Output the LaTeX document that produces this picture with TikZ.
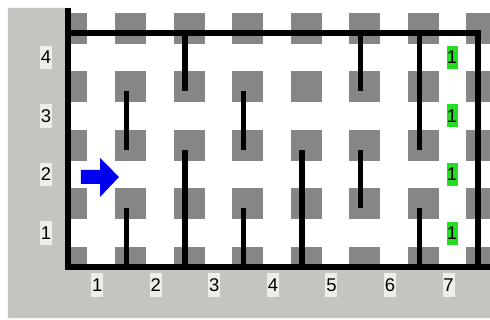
\documentclass[tikz,border=0pt]{standalone}
\usepackage{fontspec}
\setmainfont{Liberation Sans}
\definecolor{framegray}{HTML}{C4C4C0}
\definecolor{postgray}{HTML}{868686}
\definecolor{tagback}{HTML}{EEEEE8}
\definecolor{goalgreen}{HTML}{22DD22}
\definecolor{arrowblue}{HTML}{0000F0}

\begin{document}
\begin{tikzpicture}[x=1.171cm,y=1.171cm,
  wall/.style={line width=3.1pt},
  post/.style={fill=postgray},
  tag/.style={fill=tagback,inner sep=0pt,minimum width=0.24cm,minimum height=0.47cm,font=\fontsize{10.5}{12}\selectfont},
  goal/.style={tag,fill=goalgreen,minimum width=0.22cm,minimum height=0.46cm}]
\useasboundingbox (-1.161,-0.905) rectangle (7.207,4.560);
\clip (-1.161,-0.905) rectangle (7.207,4.560);
\fill[white] (-1.161,-0.905) rectangle (7.207,4.560);

% posts of the maze
\foreach \i in {0,...,7}
  \foreach \j in {0,...,4}
    \fill[post] (\i+0.068-0.265,\j+0.077-0.265) rectangle ++(0.53,0.53);

% window frame
\fill[framegray] (-1.025,-0.871) -- (7.207,-0.871) -- (7.207,0) -- (0,0) -- (0,4.424) -- (-1.025,4.424) -- cycle;

% row and column numbers
\foreach \n in {1,...,4}
  \node[tag] (row\n) at (-0.376,\n-0.5+0.08) {\n};
\foreach \n in {1,...,7}
  \node[tag] (col\n) at (\n-0.5,-0.307) {\n};

% goal cells
\foreach \n in {1,...,4}
  \node[goal] (goal\n) at (6.56,\n-0.5+0.08) {1};

% outer walls
\draw[wall] (0,4.424) -- (0,0) -- (7.207,0);
\draw[wall] (0,4) -- (7,4) -- (7,0);

% inner walls
\draw[wall] (1,3) -- (1,2);
\draw[wall] (1,1) -- (1,0);
\draw[wall] (2,4) -- (2,3);
\draw[wall] (2,2) -- (2,0);
\draw[wall] (3,3) -- (3,2);
\draw[wall] (3,1) -- (3,0);
\draw[wall] (4,2) -- (4,0);
\draw[wall] (5,4) -- (5,3);
\draw[wall] (5,2) -- (5,1);
\draw[wall] (6,4) -- (6,2);
\draw[wall] (6,1) -- (6,0);

% start arrow
\fill[arrowblue] (0.222,1.418) -- (0.547,1.418) -- (0.547,1.196) -- (0.871,1.537) -- (0.547,1.862) -- (0.547,1.657) -- (0.222,1.657) -- cycle;
\end{tikzpicture}
\end{document}
